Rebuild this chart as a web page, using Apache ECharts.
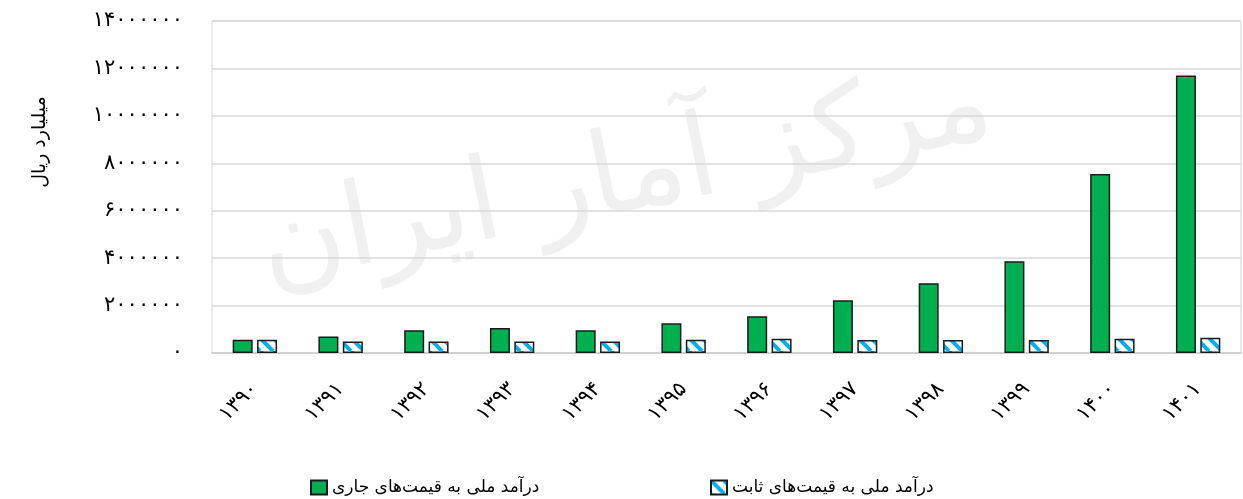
<!DOCTYPE html>
<html lang="fa">
<head>
<meta charset="utf-8">
<title>درآمد ملی</title>
<script src="https://cdn.jsdelivr.net/npm/echarts@6/dist/echarts.min.js"></script>
<style>
  html, body { margin: 0; padding: 0; background: #ffffff; }
  #chart { width: 1243px; height: 499px; }
</style>
</head>
<body>
<div id="chart"></div>
<script>
// Years (Solar Hijri)
const years = [1390, 1391, 1392, 1393, 1394, 1395, 1396, 1397, 1398, 1399, 1400, 1401];

// National income, billion rials
const currentPrices = [560000, 700000, 960000, 1050000, 960000, 1250000, 1550000, 2220000, 2940000, 3870000, 7550000, 11700000];
const constantPrices = [560000, 480000, 480000, 480000, 480000, 560000, 600000, 550000, 550000, 550000, 600000, 640000];

const seriesNames = ['درآمد ملی به قیمت‌های جاری', 'درآمد ملی به قیمت‌های ثابت'];
const axisTitle = 'میلیارد ریال';
const watermarkText = 'مرکز آمار ایران';

const yMin = 0, yMax = 14000000, yStep = 2000000;

const FONT = "'DejaVu Sans', 'Noto Sans', sans-serif";
const faDigits = '۰۱۲۳۴۵۶۷۸۹';
function toFa(v) {
  return String(v).replace(/\d/g, d => faDigits[+d]);
}

// Diagonal blue-on-white hatch for the constant-price bars
function hatchCanvas() {
  const p = 13;
  const c = document.createElement('canvas');
  c.width = p; c.height = p;
  const g = c.getContext('2d');
  g.fillStyle = '#ffffff';
  g.fillRect(0, 0, p, p);
  g.strokeStyle = '#00b0f0';
  g.lineWidth = 4;
  for (const off of [-p, 0, p]) {
    g.beginPath();
    g.moveTo(off, 0);
    g.lineTo(off + p, p);
    g.stroke();
  }
  return c;
}

const chart = echarts.init(document.getElementById('chart'), null, { renderer: 'canvas' });

chart.setOption({
  animation: false,
  backgroundColor: '#ffffff',
  textStyle: { fontFamily: FONT },
  grid: {
    left: 212, right: 2, top: 21, bottom: 146,
    show: true, borderColor: '#d4d4d4', borderWidth: 1,
    containLabel: false
  },
  graphic: [
    {
      type: 'text',
      z: -10,
      left: 250, top: 50,
      rotation: 0.2,
      style: {
        text: watermarkText,
        font: "115px 'DejaVu Sans', sans-serif",
        fill: '#f0f0f0'
      },
      silent: true
    },
    {
      type: 'text',
      x: 40, y: 142,
      rotation: Math.PI / 2,
      style: {
        text: axisTitle,
        font: "19px 'DejaVu Sans', sans-serif",
        fill: '#000000',
        align: 'center',
        verticalAlign: 'middle'
      }
    }
  ],
  legend: [
    {
      data: [seriesNames[0]],
      left: 305, top: 474,
      itemWidth: 16, itemHeight: 14,
      icon: 'rect',
      textStyle: { fontFamily: FONT, fontSize: 17, color: '#000' }
    },
    {
      data: [seriesNames[1]],
      left: 705, top: 474,
      itemWidth: 16, itemHeight: 14,
      icon: 'rect',
      textStyle: { fontFamily: FONT, fontSize: 17, color: '#000' }
    }
  ],
  xAxis: {
    type: 'category',
    data: years.map(toFa),
    axisLine: { show: true, lineStyle: { color: '#d0d0d0', width: 2 } },
    axisTick: { show: false },
    axisLabel: {
      rotate: 45,
      margin: 33,
      interval: 0,
      fontFamily: FONT,
      fontSize: 21,
      color: '#000'
    }
  },
  yAxis: {
    type: 'value',
    min: yMin, max: yMax, interval: yStep,
    axisLine: { show: false },
    axisTick: { show: false },
    splitLine: { lineStyle: { color: '#d9d9d9', width: 1.5 } },
    axisLabel: {
      margin: 29,
      fontFamily: FONT,
      fontSize: 21,
      color: '#000',
      formatter: v => toFa(v)
    }
  },
  series: [
    {
      name: seriesNames[0],
      type: 'bar',
      data: currentPrices,
      barWidth: 20,
      barGap: '22%',
      itemStyle: { color: '#00b050', borderColor: '#1a1a1a', borderWidth: 1.5 }
    },
    {
      name: seriesNames[1],
      type: 'bar',
      data: constantPrices,
      barWidth: 20,
      itemStyle: {
        color: { image: hatchCanvas(), repeat: 'repeat' },
        borderColor: '#1a1a1a', borderWidth: 1.5
      }
    }
  ]
});
</script>
</body>
</html>
